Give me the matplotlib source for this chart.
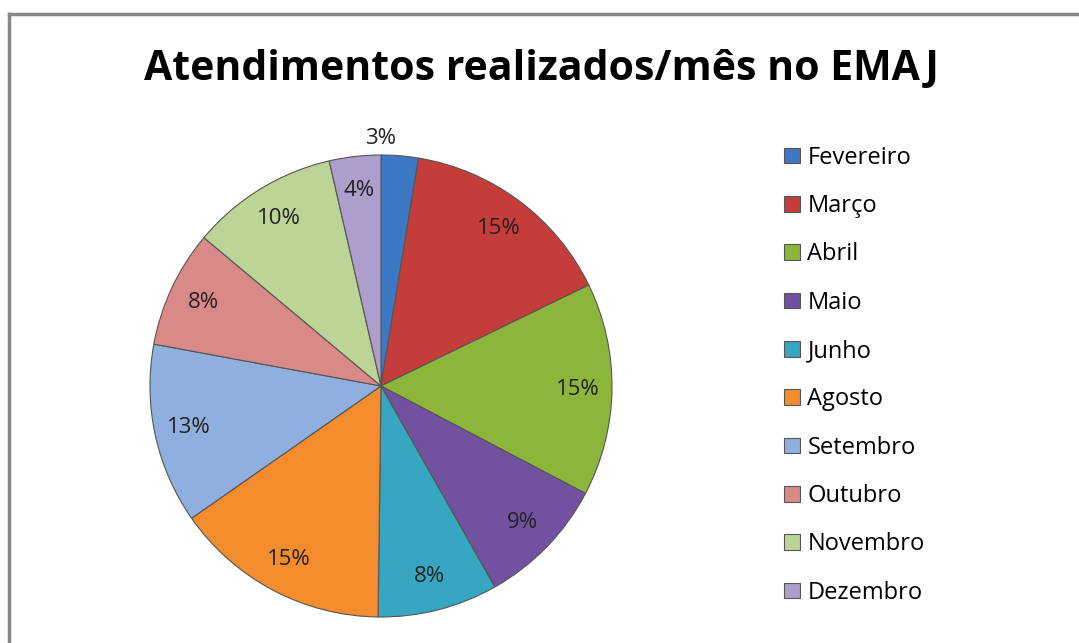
import matplotlib.pyplot as plt
from matplotlib.lines import Line2D

meses = ["Fevereiro", "Março", "Abril", "Maio", "Junho", "Agosto",
         "Setembro", "Outubro", "Novembro", "Dezembro"]
# percent share per month
valores = [2.6, 15.2, 14.9, 9.1, 8.4, 15.1, 12.6, 8.2, 10.3, 3.6]
cores = ["#3C78C3", "#C43D3A", "#8DB53C", "#7252A0", "#36A6C2",
         "#F28C2C", "#8FB0DE", "#D98A88", "#BDD497", "#AE9ECB"]

plt.rcParams['font.family'] = ['Open Sans', 'DejaVu Sans']

fig = plt.figure(figsize=(10.79, 6.43), dpi=100)
W, H = 1079, 643

# chart frame (cropped on right/bottom)
fig.add_artist(Line2D([9 / W, 1], [1 - 14 / H, 1 - 14 / H], color="#888888", lw=2.5))
fig.add_artist(Line2D([9 / W, 9 / W], [0, 1 - 14 / H], color="#888888", lw=2.5))

fig.text(541 / W, 1 - 69 / H, "Atendimentos realizados/mês no EMAJ",
         ha="center", va="center", fontsize=29.5, fontweight="bold", color="black")

cx, cy, r = 381, 386, 231
ax = fig.add_axes([(cx - r) / W, (H - cy - r) / H, 2 * r / W, 2 * r / H])
wedges, texts, autotexts = ax.pie(
    valores, colors=cores, startangle=90, counterclock=False,
    autopct="%1.0f%%", pctdistance=0.85,
    wedgeprops=dict(edgecolor="#555555", linewidth=0.8),
    textprops=dict(fontsize=16, color="#222222"))
ax.set_xlim(-1, 1)
ax.set_ylim(-1, 1)
ax.set_aspect("equal")

# small first slice: label outside
autotexts[0].set_position((0, 1.07))

fig.legend(wedges, meses, loc="upper left", bbox_to_anchor=(772 / W, 1 - 134 / H),
           frameon=False, fontsize=17, labelspacing=1.03, handlelength=0.7,
           handleheight=0.65, handletextpad=0.3, borderpad=0)

fig.savefig("out.png", dpi=100)
